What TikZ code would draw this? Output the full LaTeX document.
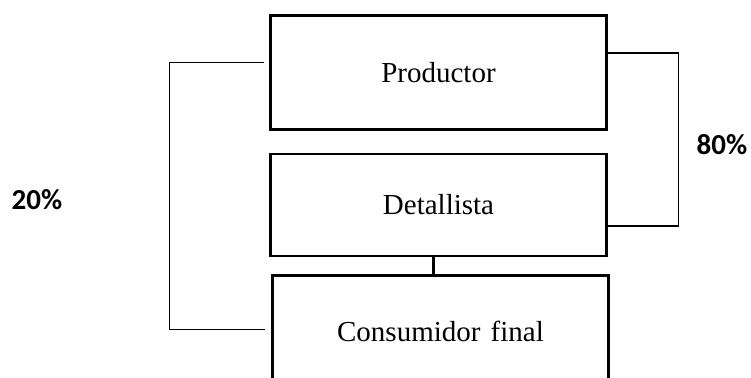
\documentclass[tikz,border=0pt]{standalone}
\usepackage{fontspec}
\setmainfont{Liberation Serif}
\newfontfamily\pctfont{Carlito}
\usetikzlibrary{positioning}

\begin{document}
\begin{tikzpicture}[x=0.5pt, y=0.5pt,
    caja/.style={rectangle, draw, line width=1.2pt, minimum width=168pt, font=\fontsize{14.5}{17}\selectfont},
    enlace/.style={line width=0.6pt},
    pct/.style={font=\pctfont\bfseries\fontsize{14.5}{17}\selectfont}]
            \useasboundingbox (0,0) rectangle (751,-377);
            \clip (0,0) rectangle (751,-377);
            \node[caja, minimum height=57pt] at (438.5,-72.5) (prod) {Productor};
            \node[caja, minimum height=51pt, below=11pt of prod] (det) {Detallista};
            \node[caja, minimum height=56pt, below=8.5pt of det, xshift=1pt] (cons) {Consumidor\hspace{0.35em}final};
            \node[pct] at (37,-200) (p20) {20\%};
            \node[pct] at (722,-145) (p80) {80\%};
            \draw[line width=1.2pt] ([xshift=-2.5pt]det.south) -- ([xshift=-3.5pt]cons.north);
            \draw[enlace] ([xshift=-2.5pt,yshift=5pt]prod.west) -- ++(-47.5pt,0) |- ([xshift=-3pt,yshift=1pt]cons.west);
            \draw[enlace] ([yshift=9.75pt]prod.east) -- ++(35.5pt,0) |- ([yshift=-10.5pt]det.east);
        \end{tikzpicture}
\end{document}
